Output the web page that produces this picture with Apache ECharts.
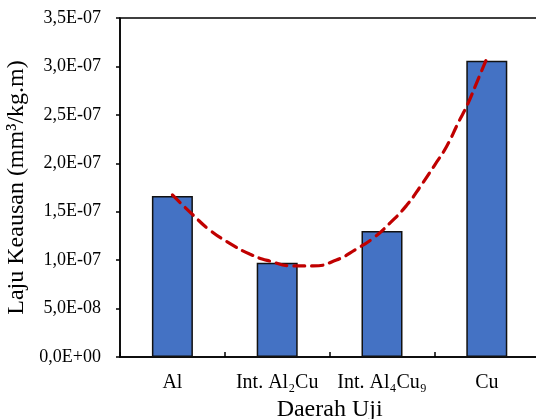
<!DOCTYPE html>
<html>
<head>
<meta charset="utf-8">
<script src="https://cdn.jsdelivr.net/npm/echarts@6/dist/echarts.min.js"></script>
<style>
html,body{margin:0;padding:0;background:#fff;}
#chart{width:536px;height:419px;}
</style>
</head>
<body>
<div id="chart"></div>
<script>
var categories = ['Al', 'Int. Al\u2082Cu', 'Int. Al\u2084Cu\u2089', 'Cu'];
var wearRate = [1.663e-7, 0.972e-7, 1.301e-7, 3.059e-7];
var yLabels = ['0,0E+00', '5,0E-08', '1,0E-07', '1,5E-07', '2,0E-07', '2,5E-07', '3,0E-07', '3,5E-07'];
// dashed trend curve (x in category units, 0 = Al)
var trendX = [0, 0.197, 0.356, 0.547, 0.737, 0.928, 1.151, 1.342, 1.565, 1.756, 1.914, 2.073, 2.233, 2.376, 2.503, 2.615, 2.725, 2.821, 2.901, 2.994];
var trendY = [1.673e-7, 1.466e-7, 1.311e-7, 1.174e-7, 1.063e-7, 0.991e-7, 0.940e-7, 0.940e-7, 1.001e-7, 1.115e-7, 1.225e-7, 1.380e-7, 1.563e-7, 1.776e-7, 1.982e-7, 2.171e-7, 2.413e-7, 2.619e-7, 2.826e-7, 3.066e-7];

var font = 'Liberation Serif';
var trendData = trendX.map(function (x, i) { return [x, trendY[i]]; });

var chart = echarts.init(document.getElementById('chart'), null, {renderer: 'canvas'});
chart.setOption({
  animation: false,
  grid: {left: 120, right: -3.2, top: 18, bottom: 62, outerBoundsMode: 'none', containLabel: false, show: true, borderColor: '#000', borderWidth: 1.5, backgroundColor: 'transparent'},
  xAxis: [{
    type: 'category',
    data: categories,
    boundaryGap: true,
    name: 'Daerah Uji',
    nameLocation: 'middle',
    nameGap: 33,
    nameTextStyle: {fontFamily: font, fontSize: 24, color: '#000'},
    axisLine: {show: true, onZero: false, lineStyle: {color: '#000', width: 1.5}},
    axisTick: {show: false},
    axisLabel: {fontFamily: font, fontSize: 20, color: '#000', margin: 16, interval: 0}
  }, {
    type: 'value',
    min: -0.5, max: 3.5, interval: 0.5,
    position: 'bottom',
    axisLine: {show: false, onZero: false},
    axisLabel: {show: false},
    splitLine: {show: false},
    axisTick: {show: true, inside: true, length: 5, lineStyle: {color: '#000', width: 1.5}}
  }],
  yAxis: {
    type: 'value',
    min: 0, max: 3.5e-7, interval: 5e-8,
    name: 'Laju Keausan (mm\u00b3/kg.m)',
    nameLocation: 'middle',
    nameGap: 87,
    nameTextStyle: {fontFamily: font, fontSize: 24, color: '#000'},
    axisLine: {show: true, onZero: false, lineStyle: {color: '#000', width: 1.5}},
    axisTick: {show: true, length: 4, lineStyle: {color: '#000', width: 1.5}},
    splitLine: {show: false},
    axisLabel: {
      fontFamily: font, fontSize: 18, color: '#000', margin: 19,
      formatter: function (v) { return yLabels[Math.round(v / 5e-8)]; }
    }
  },
  series: [{
    type: 'bar',
    data: wearRate,
    xAxisIndex: 0,
    barWidth: 41,
    itemStyle: {color: '#4472C4', borderColor: '#111', borderWidth: 1.5}
  }, {
    type: 'line',
    xAxisIndex: 1,
    data: trendData,
    smooth: true,
    showSymbol: false,
    lineStyle: {color: '#C00000', width: 3.2, type: [11, 7], cap: 'round'},
    z: 5
  }]
});
</script>
</body>
</html>
